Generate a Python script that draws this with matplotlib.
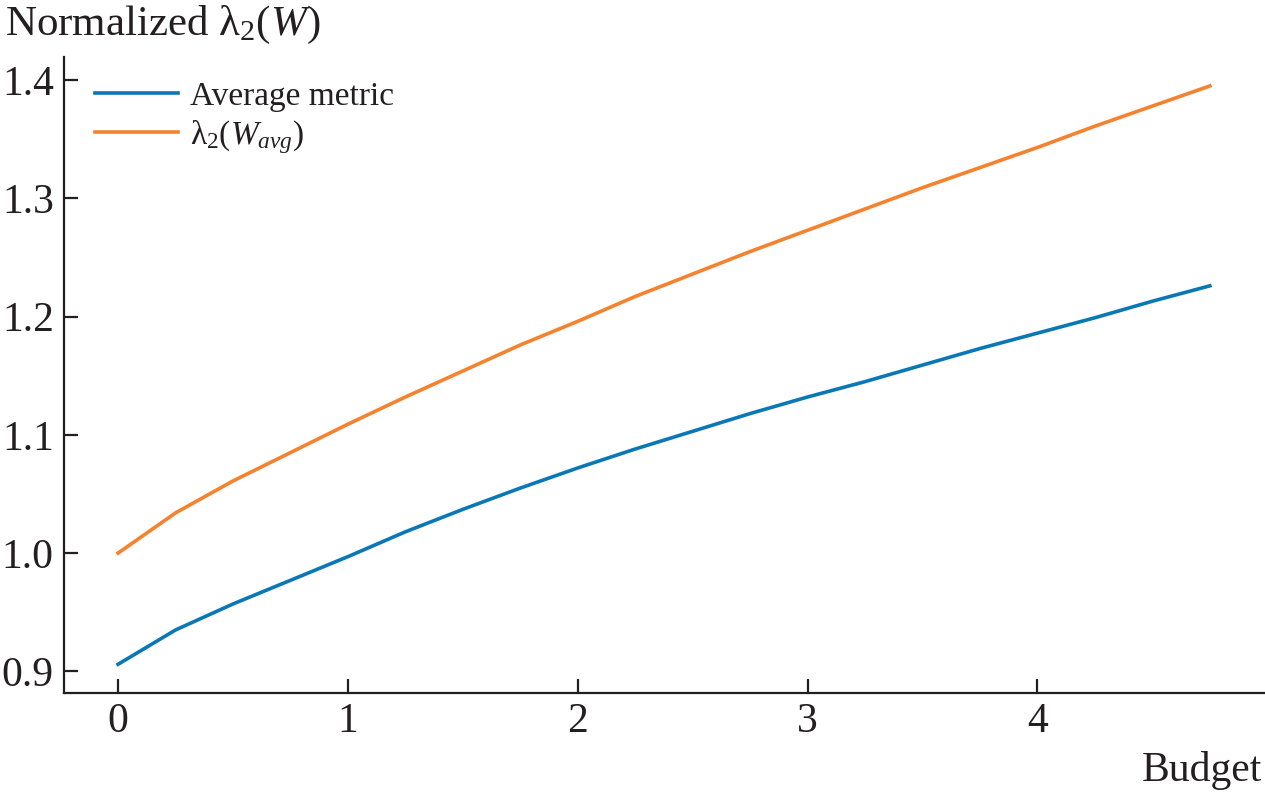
import numpy as np
import matplotlib
matplotlib.use("Agg")
import matplotlib.pyplot as plt

plt.rcParams['font.family'] = ['Liberation Serif', 'DejaVu Serif']
plt.rcParams['mathtext.fontset'] = 'custom'
plt.rcParams['mathtext.rm'] = 'Liberation Serif'
plt.rcParams['mathtext.it'] = 'Liberation Serif:italic'

budget = [0, 0.25, 0.5, 0.75, 1, 1.25, 1.5, 1.75, 2, 2.25, 2.5,
          2.75, 3, 3.25, 3.5, 3.75, 4, 4.25, 4.5, 4.75]
avg_metric = [0.906, 0.935, 0.957, 0.977, 0.997, 1.018, 1.037, 1.055, 1.072, 1.088,
              1.103, 1.118, 1.132, 1.145, 1.159, 1.173, 1.186, 1.199, 1.213, 1.226]
lam_wavg = [1.000, 1.034, 1.061, 1.085, 1.109, 1.132, 1.154, 1.176, 1.196, 1.217,
            1.236, 1.255, 1.273, 1.291, 1.309, 1.326, 1.343, 1.361, 1.378, 1.395]

xticks = [0, 1, 2, 3, 4]
yticks = [0.9, 1.0, 1.1, 1.2, 1.3, 1.4]

ink = '#231f20'

fig = plt.figure(figsize=(12.65, 7.95), dpi=100)
ax = fig.add_axes([0.0502, 0.1283, 0.9498, 0.8])

ax.plot(budget, avg_metric, color='#0a78b5', lw=2.6, label='Average metric')
ax.plot(budget, lam_wavg, color='#f5822f', lw=2.6, label='λ$_2$($W_{avg}$)')

ax.set_xlim(-0.2375, 4.99)
ax.set_ylim(0.8817, 1.4195)
ax.set_xticks(xticks)
ax.set_yticks(yticks)
ax.set_xticklabels([str(t) for t in xticks])
ax.set_yticklabels([f"{t:.1f}" for t in yticks])

for s in ['top', 'right']:
    ax.spines[s].set_visible(False)
for s in ['left', 'bottom']:
    ax.spines[s].set_linewidth(1.6)
    ax.spines[s].set_color(ink)

ax.tick_params(direction='in', length=10, width=1.6, colors=ink,
               labelsize=30, pad=7)

leg = ax.legend(loc='upper left', bbox_to_anchor=(0.026, 0.962), frameon=False,
                fontsize=24, handlelength=2.5, handletextpad=0.36,
                labelspacing=0.18, borderpad=0, borderaxespad=0)
for t in leg.get_texts():
    t.set_color(ink)

fig.text(0.004, 0.995, 'Normalized λ$_2$($W$)', fontsize=31, color=ink,
         ha='left', va='top')
fig.text(0.998, 0.006, 'Budget', fontsize=30, color=ink, ha='right', va='bottom')

fig.savefig('out.png', dpi=100)
